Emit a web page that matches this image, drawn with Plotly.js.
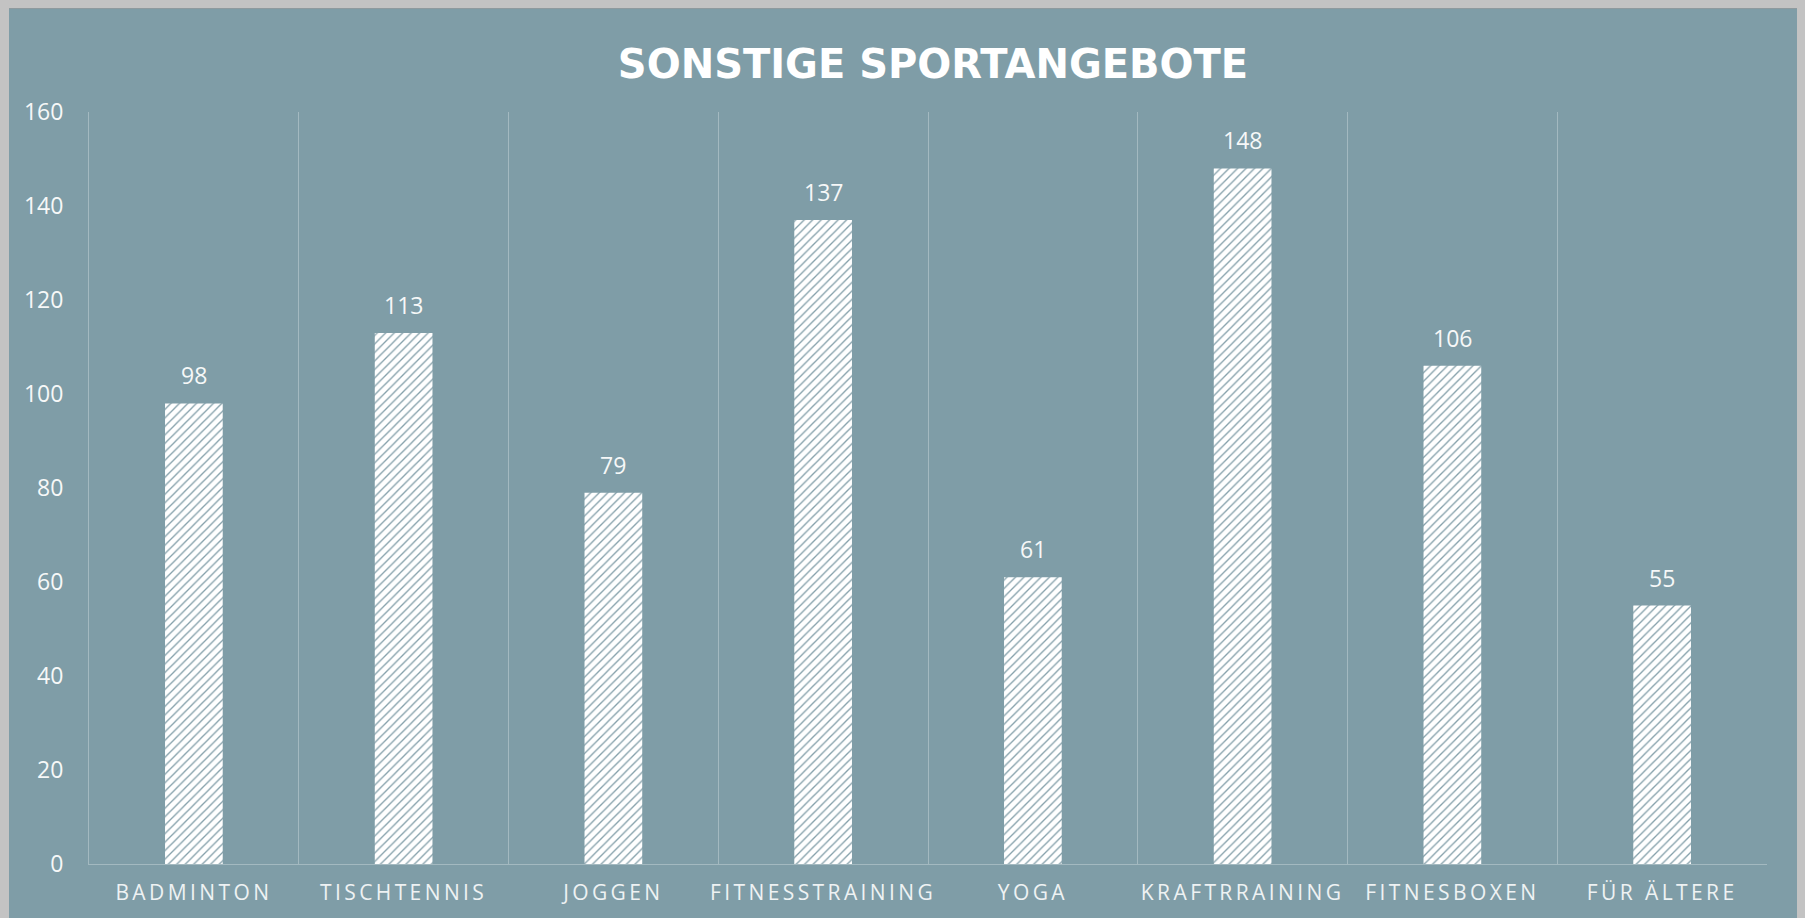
<!DOCTYPE html>
<html>
<head>
<meta charset="utf-8">
<script src="https://cdn.plot.ly/plotly-3.0.1.min.js"></script>
<style>
  html, body { margin: 0; padding: 0; background: #c3c3c3; width: 1805px; height: 918px; overflow: hidden; }
  #chart { position: absolute; left: 9px; top: 8px; width: 1788px; height: 910px; border-top: 1px solid #8f9a9e; box-sizing: border-box; }
  .xtick text { letter-spacing: 3.4px; }
</style>
</head>
<body>
<div id="chart"></div>
<script>
const categories = ["BADMINTON", "TISCHTENNIS", "JOGGEN", "FITNESSTRAINING", "YOGA", "KRAFTRRAINING", "FITNESBOXEN", "FÜR ÄLTERE"];
const values = [98, 113, 79, 137, 61, 148, 106, 55];
const yTicks = [0, 20, 40, 60, 80, 100, 120, 140, 160];
const chartTitle = "SONSTIGE SPORTANGEBOTE";

const bg = "#7f9da7";
const grid = "#a3b9c0";

const trace = {
  type: "bar",
  x: categories,
  y: values,
  width: 0.275,
  marker: {
    color: "#ffffff",
    line: { width: 0 },
    pattern: { shape: "/", bgcolor: "#ffffff", fgcolor: "#84a0aa", size: 6, solidity: 0.22 }
  },
  hoverinfo: "none"
};

const annotations = categories.map((c, i) => ({
  x: c, y: values[i], xref: "x", yref: "y",
  text: String(values[i]), showarrow: false,
  yanchor: "bottom", yshift: 10,
  font: { family: "Open Sans, sans-serif", size: 23, color: "#f6f8f8" }
}));

const layout = {
  width: 1788, height: 910,
  paper_bgcolor: bg, plot_bgcolor: bg,
  margin: { l: 80, r: 30, t: 103, b: 55 },
  showlegend: false,
  title: {
    text: "<b>" + chartTitle + "</b>",
    x: 0.503, xref: "paper", xanchor: "center",
    y: 1 - 55 / 910, yref: "container", yanchor: "middle",
    font: { family: "DejaVu Sans, sans-serif", size: 40, color: "#ffffff" }
  },
  xaxis: {
    type: "category",
    tickson: "boundaries",
    showgrid: true, gridcolor: grid, gridwidth: 1,
    showline: true, linecolor: grid, linewidth: 1,
    ticks: "", ticklabelstandoff: 10,
    tickfont: { family: "Open Sans, sans-serif", size: 21, color: "#eef2f3" },
    zeroline: false, fixedrange: true
  },
  yaxis: {
    range: [0, 160],
    tickvals: yTicks,
    ticktext: yTicks.map(String),
    showgrid: false,
    showline: true, linecolor: grid, linewidth: 1,
    zeroline: false,
    ticks: "outside", ticklen: 20, tickcolor: "rgba(0,0,0,0)",
    tickfont: { family: "Open Sans, sans-serif", size: 23, color: "#f6f8f8" },
    fixedrange: true
  },
  annotations: annotations
};

Plotly.newPlot("chart", [trace], layout, { displayModeBar: false, staticPlot: true });
</script>
</body>
</html>
